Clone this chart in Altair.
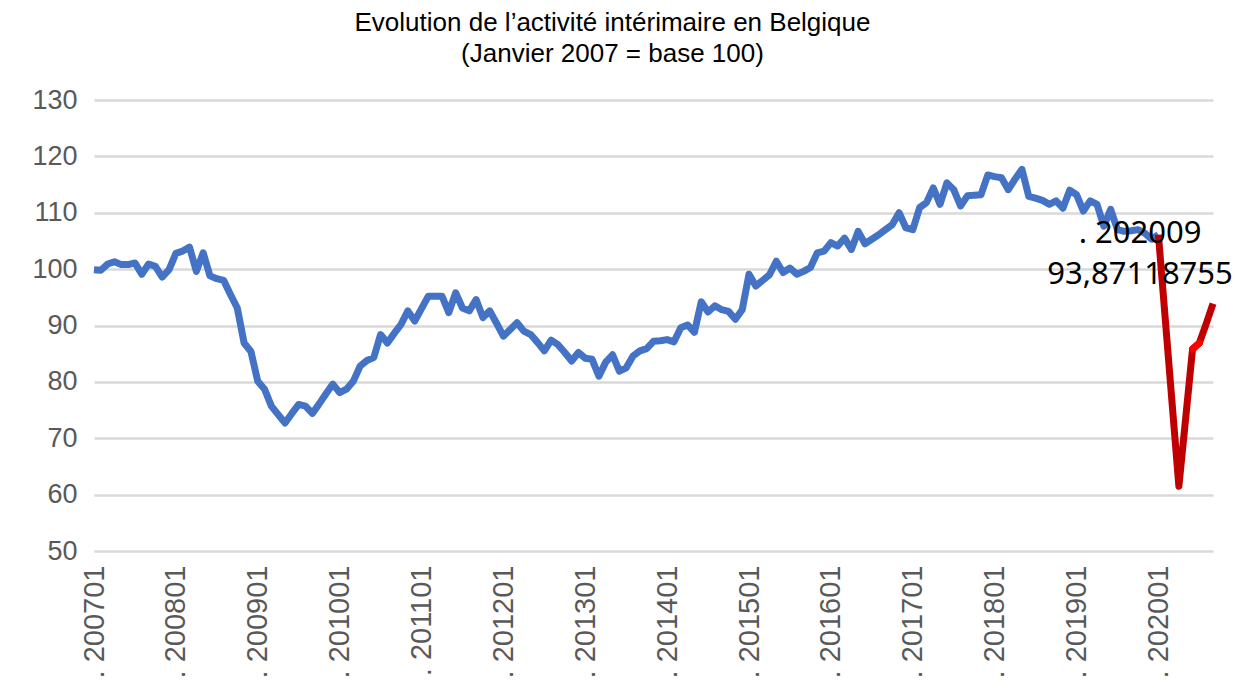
import altair as alt
import pandas as pd

# ---- data (Janvier 2007 = base 100) ----
years = list(range(2007, 2021))
months_all = [f"{y}{m:02d}" for y in years for m in range(1, 13)][:165]  # 200701 .. 202009
tick_months = [f"{y}01" for y in years]

blue_values = [
    # 2007
    99.9, 99.8, 100.9, 101.3, 100.8, 100.8, 101.1, 99.1, 100.9, 100.5, 98.6, 99.9,
    # 2008
    102.8, 103.2, 103.9, 99.6, 102.9, 98.8, 98.3, 98.0, 95.5, 93.1, 86.9, 85.4,
    # 2009
    80.1, 78.7, 75.7, 74.2, 72.7, 74.4, 76.0, 75.7, 74.4, 76.1, 77.9, 79.6,
    # 2010
    78.1, 78.7, 80.1, 82.8, 83.8, 84.3, 88.4, 86.9, 88.6, 90.2, 92.6, 90.8,
    # 2011
    93.0, 95.2, 95.2, 95.2, 92.3, 95.8, 93.1, 92.6, 94.6, 91.4, 92.6, 90.4,
    # 2012
    88.1, 89.3, 90.5, 89.0, 88.4, 87.0, 85.5, 87.4, 86.6, 85.2, 83.7, 85.2,
    # 2013
    84.2, 84.0, 81.0, 83.5, 84.8, 81.9, 82.5, 84.6, 85.5, 85.9, 87.2, 87.3,
    # 2014
    87.5, 87.1, 89.6, 90.1, 88.8, 94.2, 92.4, 93.5, 92.8, 92.5, 91.1, 92.8,
    # 2015
    99.1, 97.0, 98.0, 99.0, 101.4, 99.4, 100.2, 99.1, 99.6, 100.3, 102.9, 103.2,
    # 2016
    104.7, 104.1, 105.5, 103.5, 106.7, 104.5, 105.3, 106.1, 107.0, 107.9, 110.0, 107.3,
    # 2017
    107.0, 110.9, 111.8, 114.4, 111.5, 115.3, 114.1, 111.2, 113.0, 113.1, 113.2, 116.7,
    # 2018
    116.4, 116.2, 114.1, 116.0, 117.7, 112.9, 112.6, 112.2, 111.5, 112.1, 110.8, 114.0,
    # 2019
    113.2, 110.3, 112.1, 111.5, 107.6, 110.6, 107.0, 106.7, 106.8, 107.0, 106.4, 105.3,
    # 2020
    106.1,
]

red_months = ["202001", "202002", "202003", "202004", "202005",
              "202006", "202007", "202008", "202009"]
red_values = [106.1, 91.2, 76.3, 61.5, 73.6, 85.8, 86.9, 90.3, 93.87118755]

highlight_months = ["202006", "202007"]
highlight_values = [85.8, 86.9]

label_month = ["202009"]
label_value = [93.87118755]
label_text = [". 202009\n93,87118755"]

title_lines = ["Evolution de l\u2019activité intérimaire en Belgique",
               "(Janvier 2007 = base 100)"]
y_ticks = [50, 60, 70, 80, 90, 100, 110, 120, 130]

# ---- tables ----
blue_df = pd.DataFrame({"month": months_all[:len(blue_values)], "value": blue_values})
red_df = pd.DataFrame({"month": red_months, "value": red_values})
hl_df = pd.DataFrame({"month": highlight_months, "value": highlight_values})
lab_df = pd.DataFrame({"month": label_month, "value": label_value, "txt": label_text})

AXIS_FONT = "Liberation Sans"
GRAY = "#595959"

x_enc = alt.X(
    "month:O",
    scale=alt.Scale(type="point", domain=months_all, padding=0),
    axis=alt.Axis(
        values=tick_months,
        labelExpr="'. ' + datum.value",
        labelAngle=270,
        labelFont=AXIS_FONT,
        labelFontSize=29,
        labelColor=GRAY,
        labelPadding=14,
        ticks=False,
        domain=False,
        grid=False,
        title=None,
    ),
)
y_enc = alt.Y(
    "value:Q",
    scale=alt.Scale(domain=[50, 130], nice=False, zero=False),
    axis=alt.Axis(
        values=y_ticks,
        labelFont=AXIS_FONT,
        labelFontSize=27,
        labelColor=GRAY,
        labelPadding=17,
        ticks=False,
        domain=False,
        grid=True,
        gridColor="#D9D9D9",
        gridWidth=2.5,
        title=None,
    ),
)

blue = alt.Chart(blue_df).mark_line(
    color="#4472C4", strokeWidth=7, strokeJoin="round"
).encode(x=x_enc, y=y_enc)

red = alt.Chart(red_df).mark_line(
    color="#C00000", strokeWidth=7, strokeJoin="round"
).encode(x=x_enc, y=y_enc)

hl = alt.Chart(hl_df).mark_line(
    color="#FF0000", strokeWidth=7, strokeJoin="round", strokeCap="round"
).encode(x=x_enc, y=y_enc)

label = alt.Chart(lab_df).mark_text(
    font="Noto Sans", fontSize=31, color="black", align="center", baseline="middle",
    lineBreak="\n", lineHeight=41, dx=-73, dy=-70,
).encode(x=x_enc, y=y_enc, text="txt:N")

chart = alt.layer(blue, red, hl, label).properties(
    width=1119,
    height=451,
    autosize=alt.AutoSizeParams(type="none"),
    padding={"left": 86, "top": 92, "right": 20, "bottom": 129},
    title=alt.TitleParams(
        text=title_lines,
        font=AXIS_FONT,
        fontSize=26,
        fontWeight="normal",
        color="black",
        anchor="middle",
        frame="group",
        dx=-41,
        offset=19,
        lineHeight=31,
    ),
).configure_view(stroke=None)

chart.save("out.html", embed_options={"renderer": "svg", "actions": False})
